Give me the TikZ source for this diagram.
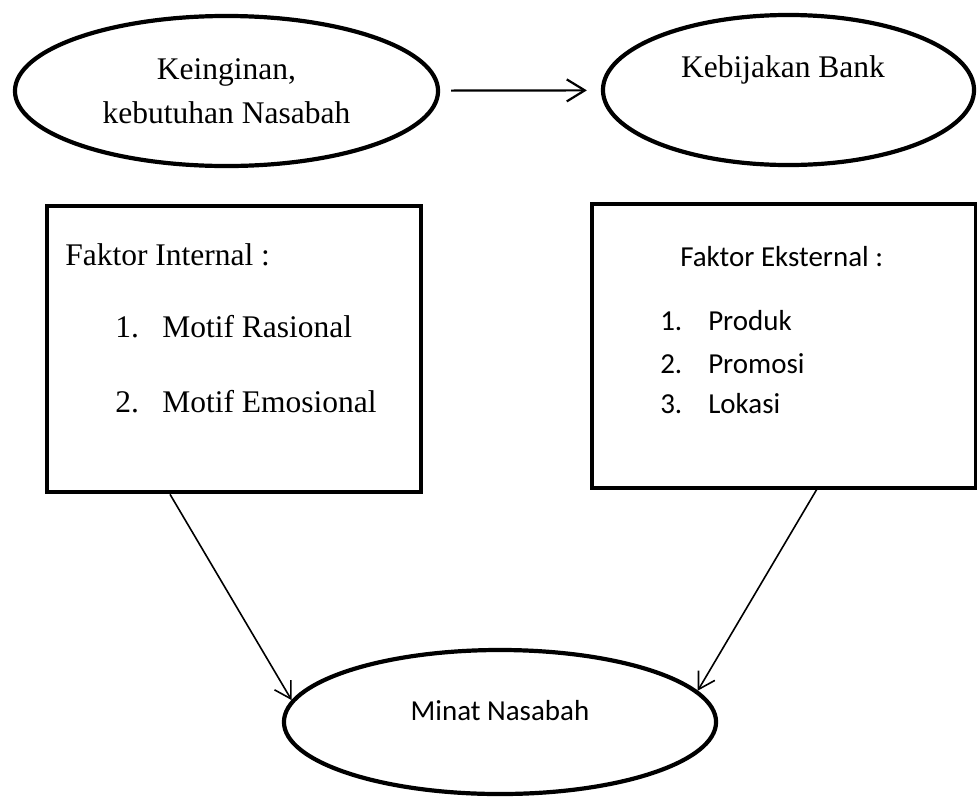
\documentclass[tikz,border=0pt]{standalone}
\usepackage{fontspec}
\setmainfont{Liberation Serif}
\newfontfamily\carlito{Carlito}
\usepackage{tikz}
\usetikzlibrary{shapes,arrows.meta,calc}
\newlength\dpx
\setlength\dpx{0.025cm}
\tikzstyle{oval} = [ellipse, draw, line width=0.105cm, inner sep=0pt]
\tikzstyle{panel} = [rectangle, draw, line width=0.105cm, anchor=north west, inner sep=0pt]
\tikzstyle{serif} = [font=\fontsize{22.4}{31.3}\selectfont, inner sep=0pt, anchor=base west]
\tikzstyle{sans} = [font=\carlito\fontsize{20.6}{25}\selectfont, inner sep=0pt, anchor=base west]
\tikzstyle{line} = [draw, line width=0.04cm, -{Straight Barb[length=0.4cm, width=0.475cm]}]

\begin{document}
\begin{tikzpicture}[x=0.025cm, y=-0.025cm]
    \useasboundingbox (0,0) rectangle (977,797);
    % Place nodes
    \node [oval, minimum width=10.575cm, minimum height=3.75cm, align=center,
        font=\fontsize{22.4}{31.3}\selectfont] (wish) at (226.5,91) {Keinginan,\\kebutuhan Nasabah};
    \node [oval, minimum width=9.275cm, minimum height=3.75cm] (bank) at (788.5,90) {};
    \node [serif, anchor=base] (banktext) at (783,77) {Kebijakan Bank};
    \node [panel, minimum width=9.35cm, minimum height=7.15cm] (internal) at (45,204) {};
    \node [serif] (inthead) at (65,265) {Faktor Internal :};
    \node [serif] (int1) at (115,337) {\makebox[47\dpx][l]{1.}Motif Rasional};
    \node [serif] (int2) at (115,412) {\makebox[47\dpx][l]{2.}Motif Emosional};
    \node [panel, minimum width=9.6cm, minimum height=7.1cm] (external) at (590,202) {};
    \node [sans] (exthead) at (680,266) {Faktor Eksternal :};
    \node [sans] (ext1) at (660,330) {\makebox[48\dpx][l]{1.}Produk};
    \node [sans] (ext2) at (660,373) {\makebox[48\dpx][l]{2.}Promosi};
    \node [sans] (ext3) at (660,413) {\makebox[48\dpx][l]{3.}Lokasi};
    \node [oval, minimum width=10.8cm, minimum height=3.6cm] (minat) at (500,722) {};
    \node [sans, anchor=base] (minattext) at (500,720) {Minat Nasabah};
    % Draw edges
    \path [line, line width=0.055cm, -{Straight Barb[length=0.45cm, width=0.55cm]},
        shorten <=0.275cm, shorten >=0.35cm] (wish) -- (bank);
    \path [line] ($(internal.south west)+(125,0)$) -- (minat.174);
    \path [line] ($(external.south west)+(228,-3)$) -- (minat.9);
\end{tikzpicture}
\end{document}
